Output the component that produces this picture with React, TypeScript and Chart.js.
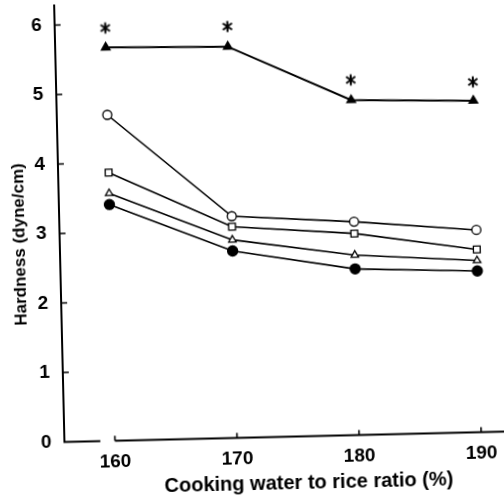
import { useEffect, useRef } from "react";
import { Chart, registerables } from "chart.js";

Chart.register(...registerables);

// ---- data ----
const ratios = [160, 170, 180, 190];
const hardnessFilledTri = [5.66, 5.63, 4.82, 4.77];
const significanceMarks = [5.94, 5.92, 5.11, 5.04];
const hardnessOpenCircle = [4.69, 3.19, 3.07, 2.91];
const hardnessOpenSquare = [3.86, 3.04, 2.9, 2.63];
const hardnessOpenTri = [3.56, 2.85, 2.59, 2.47];
const hardnessFilledCircle = [3.4, 2.69, 2.39, 2.32];

const xTicks = [160, 170, 180, 190];
const yTicks = [0, 1, 2, 3, 4, 5, 6];
const xRange = [155.86, 191.9];
const yRange = [0, 6.294];
const xAxisBreak = [158.8, 160];

const xTitle = "Cooking water to rice ratio (%)";
const yTitle = "Hardness (dyne/cm)";

const FONT = "'Liberation Sans', Arial, Helvetica, sans-serif";

function makeAsterisk(): HTMLCanvasElement {
  const c = document.createElement("canvas");
  c.width = 14;
  c.height = 14;
  const g = c.getContext("2d")!;
  g.strokeStyle = "#000";
  g.lineWidth = 2;
  const cx = 7, cy = 7, r = 5.6;
  g.beginPath();
  for (const a of [90, 35, 145]) {
    const rad = (a * Math.PI) / 180;
    g.moveTo(cx - r * Math.cos(rad), cy - r * Math.sin(rad));
    g.lineTo(cx + r * Math.cos(rad), cy + r * Math.sin(rad));
  }
  g.stroke();
  return c;
}

const paperAxes = {
  id: "paperAxes",
  afterDatasetsDraw(chart: any) {
    const { ctx, chartArea, scales } = chart;
    const xs = scales.x, ys = scales.y;
    const left = chartArea.left, bottom = chartArea.bottom;
    ctx.save();
    ctx.strokeStyle = "#000";
    ctx.lineWidth = 2;
    ctx.lineCap = "butt";
    ctx.beginPath();
    ctx.moveTo(left, chartArea.top);
    ctx.lineTo(left, bottom);
    ctx.lineTo(xs.getPixelForValue(xAxisBreak[0]), bottom);
    ctx.moveTo(xs.getPixelForValue(xAxisBreak[1]), bottom);
    ctx.lineTo(chartArea.right, bottom);
    ctx.stroke();
    ctx.lineWidth = 1.6;
    ctx.beginPath();
    for (const v of xTicks) {
      const px = xs.getPixelForValue(v);
      ctx.moveTo(px, bottom);
      ctx.lineTo(px, bottom - 5);
    }
    for (const v of yTicks) {
      if (v === 0) continue;
      const py = ys.getPixelForValue(v);
      ctx.moveTo(left, py);
      ctx.lineTo(left + 6, py);
    }
    ctx.stroke();

    ctx.fillStyle = "#000";
    ctx.textAlign = "center";
    ctx.textBaseline = "middle";
    ctx.font = `bold 20px ${FONT}`;
    ctx.fillText(xTitle, left + 243.5, bottom + 47);
    ctx.save();
    ctx.translate(20, bottom - 198.5);
    ctx.rotate(-Math.PI / 2);
    ctx.font = `bold 17px ${FONT}`;
    ctx.fillText(yTitle, 0, 0);
    ctx.restore();
    ctx.restore();
  },
};

function series(vals: number[], style: any, fill: string, radius: number, lw = 1.6) {
  return {
    data: ratios.map((r, i) => ({ x: r, y: vals[i] })),
    borderColor: "#000",
    borderWidth: lw,
    pointStyle: style,
    pointRadius: radius,
    pointBackgroundColor: fill,
    pointBorderColor: "#000",
    pointBorderWidth: 1.3,
    tension: 0,
    fill: false,
  };
}

function zeroPad(s: any) {
  s.paddingTop = 0;
  s.paddingBottom = 0;
  s.paddingLeft = 0;
  s.paddingRight = 0;
}

export default function App() {
  const ref = useRef<HTMLCanvasElement>(null);
  useEffect(() => {
    if (!ref.current) return;
    const asterisk = makeAsterisk();
    const tickFont = { family: FONT, size: 19, weight: "bold" as const };
    const chart = new Chart(ref.current, {
      type: "line",
      data: {
        datasets: [
          {
            data: ratios.map((r, i) => ({ x: r, y: significanceMarks[i] })),
            showLine: false,
            pointStyle: asterisk as any,
            pointRadius: 7,
            borderColor: "#000",
            backgroundColor: "#000",
          },
          series(hardnessFilledTri, "triangle", "#000", 5, 2),
          series(hardnessOpenCircle, "circle", "#fff", 4.5),
          series(hardnessOpenSquare, "rect", "#fff", 4.8),
          series(hardnessOpenTri, "triangle", "#fff", 4.3),
          series(hardnessFilledCircle, "circle", "#000", 5),
        ] as any,
      },
      options: {
        responsive: false,
        animation: false,
        layout: { autoPadding: false, padding: { top: 0, right: 4, left: 0, bottom: 0 } },
        plugins: { legend: { display: false }, tooltip: { enabled: false } },
        scales: {
          x: {
            type: "linear",
            min: xRange[0],
            max: xRange[1],
            grid: { display: false },
            border: { display: false },
            afterBuildTicks: (s: any) => {
              s.ticks = xTicks.map((v) => ({ value: v }));
            },
            afterFit: (s: any) => {
              s.height = 64.5;
              zeroPad(s);
            },
            ticks: {
              color: "#000",
              font: tickFont,
              padding: 2,
              maxRotation: 0,
              autoSkip: false,
            },
          },
          y: {
            type: "linear",
            min: yRange[0],
            max: yRange[1],
            grid: { display: false },
            border: { display: false },
            afterBuildTicks: (s: any) => {
              s.ticks = yTicks.map((v) => ({ value: v }));
            },
            afterFit: (s: any) => {
              s.width = 60;
              zeroPad(s);
            },
            ticks: {
              color: "#000",
              font: tickFont,
              padding: 5,
              autoSkip: false,
            },
          },
        },
      },
      plugins: [paperAxes],
    });
    return () => chart.destroy();
  }, []);

  return (
    <div style={{ position: "absolute", left: 0, top: 0, width: 504, height: 502, overflow: "hidden", background: "#fff" }}>
      <canvas
        ref={ref}
        width={504}
        height={502}
        style={{ display: "block", transform: "rotate(-1.35deg)", transformOrigin: "252px 251px" }}
      />
    </div>
  );
}
